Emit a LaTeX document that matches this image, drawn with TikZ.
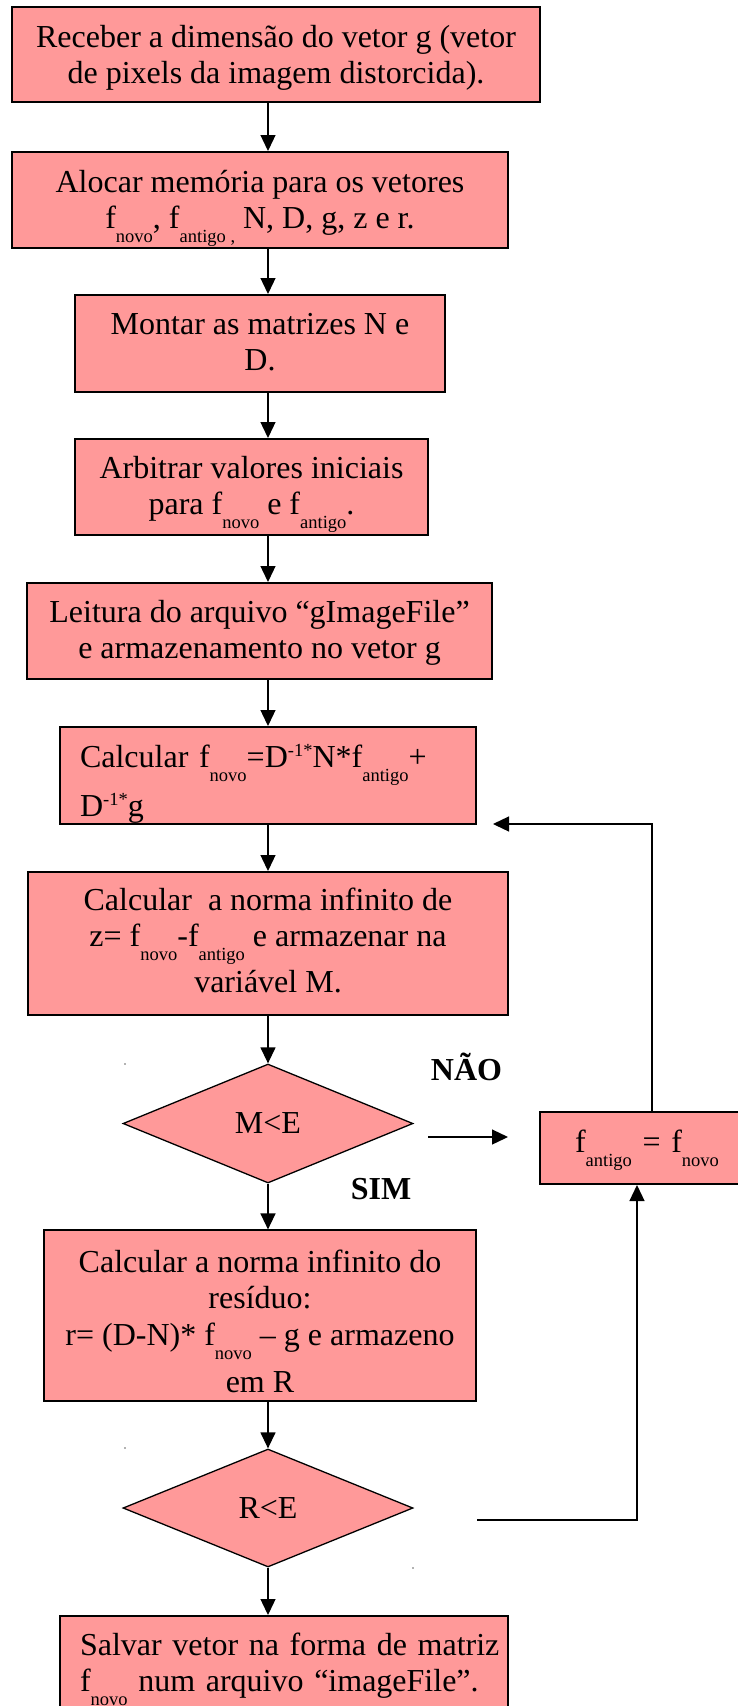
\documentclass[tikz,border=0pt]{standalone}
\usepackage{fontspec}
\setmainfont{Liberation Serif}
\usetikzlibrary{arrows.meta,shapes.geometric}
\definecolor{rose}{RGB}{255,153,153}
\newcommand\fs{\fontsize{32}{36.8}\selectfont}
\newcommand\lo[1]{\smash{\raisebox{-14pt}{\fontsize{18.5}{20}\selectfont #1}}}
\newcommand\hi[1]{\smash{\raisebox{11pt}{\fontsize{18.5}{20}\selectfont #1}}}
\newcommand\st[1]{\rule{0pt}{#1pt}}
\newcommand\sd[1]{\rule[-#1pt]{0pt}{#1pt}}
\tikzset{
  box/.style={rectangle, draw=black, line width=2pt, fill=rose, inner sep=0pt, align=center, font=\fs},
  lbox/.style={box, align=left},
  dec/.style={diamond, draw=black, line width=1.3pt, fill=rose, inner sep=0pt, font=\fs},
  arr/.style={line width=1.3pt, -{Triangle[length=16pt,width=15pt]}},
  lab/.style={font=\fs\bfseries, inner sep=0pt, anchor=base},
  speck/.style={fill=black!60},
}
\begin{document}
\begin{tikzpicture}[x=1pt,y=-1pt]
\useasboundingbox (0,0) rectangle (738,1706);
\coordinate (ax) at (268,0);
% boxes
\node[box, minimum width=528pt, minimum height=95pt] (b1) at (276,54.5)
  {\st{29.8}Receber a dimensão do vetor g (vetor\\de pixels da imagem distorcida).\sd{8}};
\node[box, minimum width=496pt, minimum height=96pt] (b2) at (260,200)
  {\st{28.8}Alocar memória para os vetores\\f\lo{novo}, f\lo{antigo ,} N, D, g, z e r.\sd{8}};
\node[box, minimum width=370pt, minimum height=97pt] (b3) at (260,343.5)
  {\st{25.8}Montar as matrizes N e\\D.\sd{8}};
\node[box, minimum width=353pt, minimum height=96pt] (b4) at (251.5,487)
  {\st{26.8}Arbitrar valores iniciais\\para f\lo{novo} e f\lo{antigo}.\sd{8}};
\node[box, minimum width=465pt, minimum height=96pt] (b5) at (259.5,631)
  {\st{26.8}Leitura do arquivo “gImageFile”\\e armazenamento no vetor g\sd{8}};
\node[lbox, text width=376pt, inner xsep=20pt, minimum height=95pt] (b6) at (268,775.5)
  {\mbox{\st{40}Calcular f\lo{novo}=D\hi{-1*}N*f\lo{antigo}+}\\[12.2pt]\mbox{D\hi{-1*}g\sd{8}}};
\node[box, minimum width=480pt, minimum height=143pt] (b7) at (268,943.5)
  {\st{23.8}Calcular~ a norma infinito de\\z= f\lo{novo}-f\lo{antigo} e armazenar na\\[9.2pt]variável M.\sd{8}};
\node[dec, minimum width=290pt, minimum height=119pt] (d1) at (268,1123.5) {M<E};
\node[box, minimum width=432pt, minimum height=169pt] (b8) at (260,1315.5)
  {\st{41.6}Calcular a norma infinito do\\resíduo:\\r= (D-N)* f\lo{novo} – g e armazeno\\[10.2pt]em R\sd{8}};
\node[dec, minimum width=290pt, minimum height=118pt] (d2) at (268,1508) {R<E};
\node[lbox, text width=408pt, inner xsep=20pt, minimum height=95pt] (b9) at (284,1663.5)
  {\mbox{\st{27.8}Salvar vetor na forma de matriz}\\\mbox{f\lo{novo} num arquivo “imageFile”.\sd{8}}};
\node[lbox, text width=154pt, inner xsep=35pt, minimum height=72pt] (fa) at (652,1148)
  {\mbox{\st{22}f\lo{antigo} = f\lo{novo}\sd{14}}};
% labels
\node[lab] (nao) at (466.5,1080) {NÃO};
\node[lab] (sim) at (381,1199) {SIM};
% free ends
\coordinate (na1) at (428,1137);
\coordinate (na2) at (508,1137);
\coordinate (lp) at (493,824);
\coordinate (rs) at (477,1520);
% main flow
\draw[arr] (b1.south -| ax) -- (b2.north -| ax);
\draw[arr] (b2.south -| ax) -- (b3.north -| ax);
\draw[arr] (b3.south -| ax) -- (b4.north -| ax);
\draw[arr] (b4.south -| ax) -- (b5.north -| ax);
\draw[arr] (b5.south -| ax) -- (b6.north -| ax);
\draw[arr] (b6.south -| ax) -- (b7.north -| ax);
\draw[arr] (b7.south -| ax) -- (d1.north);
\draw[arr] (d1.south) -- (b8.north -| ax);
\draw[arr] (b8.south -| ax) -- (d2.north);
\draw[arr] (d2.south) -- (b9.north -| ax);
% loop
\draw[arr] (na1) -- (na2);
\draw[arr] (fa.north) |- (lp);
\draw[arr] (rs) -| ([xshift=-15pt]fa.south);
% stray specks
\fill[speck] (125,1064) circle[radius=0.8pt];
\fill[speck] (125,1448) circle[radius=0.8pt];
\fill[speck] (413,1568) circle[radius=0.8pt];
\end{tikzpicture}
\end{document}
